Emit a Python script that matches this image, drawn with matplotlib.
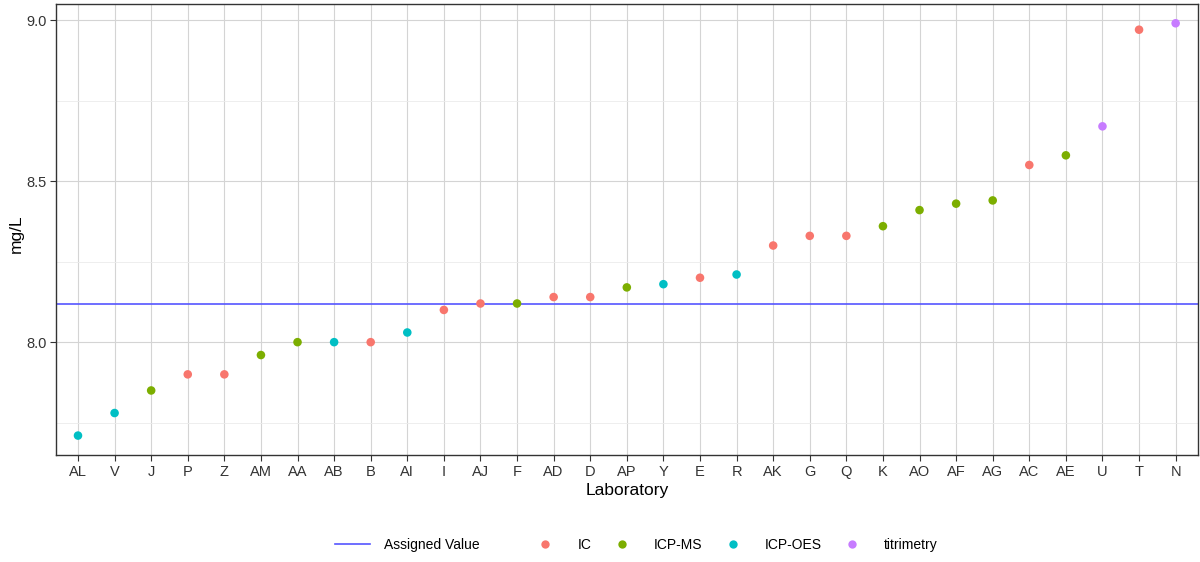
import matplotlib.pyplot as plt
from matplotlib.lines import Line2D

plt.rcParams["font.family"] = ["Liberation Sans", "DejaVu Sans"]

labs = ["AL", "V", "J", "P", "Z", "AM", "AA", "AB", "B", "AI", "I", "AJ", "F", "AD", "D",
        "AP", "Y", "E", "R", "AK", "G", "Q", "K", "AO", "AF", "AG", "AC", "AE", "U", "T", "N"]
vals = [7.71, 7.78, 7.85, 7.90, 7.90, 7.96, 8.00, 8.00, 8.00, 8.03, 8.10, 8.12, 8.12, 8.14, 8.14,
        8.17, 8.18, 8.20, 8.21, 8.30, 8.33, 8.33, 8.36, 8.41, 8.43, 8.44, 8.55, 8.58, 8.67, 8.97, 8.99]
methods = ["ICP-OES", "ICP-OES", "ICP-MS", "IC", "IC", "ICP-MS", "ICP-MS", "ICP-OES", "IC", "ICP-OES",
           "IC", "IC", "ICP-MS", "IC", "IC", "ICP-MS", "ICP-OES", "IC", "ICP-OES", "IC", "IC", "IC",
           "ICP-MS", "ICP-MS", "ICP-MS", "ICP-MS", "IC", "ICP-MS", "titrimetry", "IC", "titrimetry"]
assigned = 8.12

method_names = ["IC", "ICP-MS", "ICP-OES", "titrimetry"]
colors = {"IC": "#F8766D", "ICP-MS": "#7CAE00", "ICP-OES": "#00BFC4", "titrimetry": "#C77CFF"}
line_col = "#5555ff"

fig = plt.figure(figsize=(12, 5.62), dpi=100)
ax = fig.add_axes([0.0467, 0.19, 0.9513, 0.803])

x = list(range(len(labs)))
ax.axhline(assigned, color=line_col, lw=1.2, zorder=2)
ax.scatter(x, vals, c=[colors[m] for m in methods], s=38, zorder=3, linewidths=0)

ax.set_xlim(-0.6, len(labs) - 1 + 0.6)
ax.set_ylim(7.649, 9.05)
ax.set_xticks(x)
ax.set_xticklabels(labs)
ax.set_yticks([8.0, 8.5, 9.0])
ax.set_yticks([7.75, 8.25, 8.75], minor=True)
ax.yaxis.set_major_formatter(plt.FormatStrFormatter("%.1f"))

ax.grid(True, which="major", color="#d4d4d4", lw=0.8, zorder=0)
ax.grid(True, which="minor", axis="y", color="#ebebeb", lw=0.6, zorder=0)
ax.set_axisbelow(True)
ax.tick_params(which="major", length=4, color="#333333", labelsize=10.5, labelcolor="#333333", pad=3)
ax.tick_params(which="minor", length=0)
for s in ax.spines.values():
    s.set_color("#333333")
    s.set_linewidth(1.0)

ax.set_xlabel("Laboratory", fontsize=12.5, labelpad=3)
ax.set_ylabel("mg/L", fontsize=12.5)
ax.yaxis.set_label_coords(-0.028, 0.49)

# two legend groups like ggplot: the line, then the method colours
leg_y = 1 - 545 / 562
h_line = [Line2D([0], [0], color=line_col, lw=1.2)]
fig.legend(h_line, ["Assigned Value"], loc="center left", bbox_to_anchor=(335 / 1200, leg_y),
           frameon=False, fontsize=10, handlelength=2.5, handletextpad=1.0,
           borderpad=0, borderaxespad=0)
h_pts = [Line2D([0], [0], marker="o", ls="", markersize=6, markeredgewidth=0,
                markerfacecolor=colors[m]) for m in method_names]
fig.legend(h_pts, method_names, loc="center left", bbox_to_anchor=(537 / 1200, leg_y),
           ncol=4, frameon=False, fontsize=10, handlelength=1.2, handletextpad=1.7,
           columnspacing=1.6, borderpad=0, borderaxespad=0)

fig.savefig("out.png", dpi=100)
